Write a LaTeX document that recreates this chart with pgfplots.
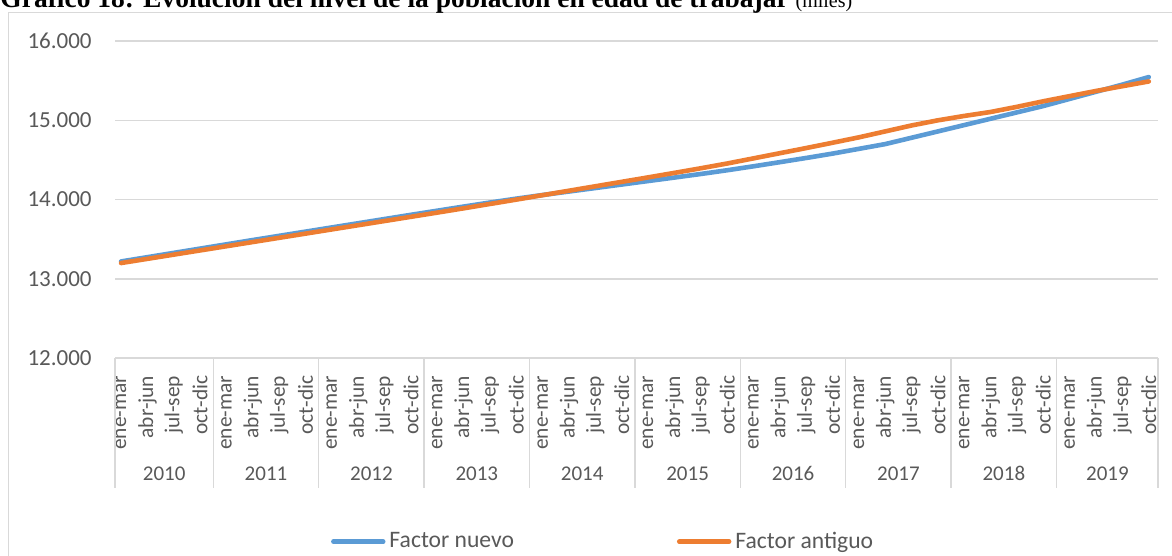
\documentclass[border=0pt]{standalone}
\usepackage{fontspec}
\setmainfont{Carlito}
\newfontfamily\seriffont{Liberation Serif}
\usepackage{pgfplots}
\pgfplotsset{compat=1.18}
\definecolor{cblue}{HTML}{5B9BD5}
\definecolor{corange}{HTML}{ED7D31}
\definecolor{ctext}{HTML}{595959}
\definecolor{cgrid}{HTML}{D9D9D9}
\tikzset{yearlab/.style={text=ctext, font=\fontsize{10.5}{12}\selectfont, anchor=base, yshift=-61.4pt, inner sep=0pt}}

\pgfplotstableread{
i nuevo antiguo
0 13220 13200
1 13274 13253
2 13328 13306
3 13382 13359
4 13436 13412
5 13490 13465
6 13543 13518
7 13596 13571
8 13649 13624
9 13702 13677
10 13755 13730
11 13808 13783
12 13860 13836
13 13912 13890
14 13963 13945
15 14012 14000
16 14058 14056
17 14102 14112
18 14146 14168
19 14190 14224
20 14234 14280
21 14278 14337
22 14323 14395
23 14370 14455
24 14420 14520
25 14472 14585
26 14525 14650
27 14580 14717
28 14640 14785
29 14700 14860
30 14780 14935
31 14860 15000
32 14940 15055
33 15020 15105
34 15100 15170
35 15180 15240
36 15270 15305
37 15360 15370
38 15450 15430
39 15545 15490
}\datatable

\begin{document}
\begin{tikzpicture}
\useasboundingbox (0,0) rectangle (586pt,278pt);
\clip (0,0) rectangle (586pt,278pt);
\fill[white] (0,0) rectangle (586pt,278pt);
\draw[cgrid, line width=0.6pt] (4.15pt,-10pt) -- (4.15pt,271.6pt) -- (600pt,271.6pt);
\node[anchor=base west, inner sep=0pt, font=\seriffont\bfseries\fontsize{13.75}{16}\selectfont] at (0pt,274.35pt) {Gráfico 18: Evolución del nivel de la población en edad de trabajar {\mdseries\fontsize{10}{12}\selectfont (miles)}};

\begin{axis}[
  at={(57.5pt,98.9pt)}, anchor=south west,
  scale only axis, width=521.5pt, height=158.6pt,
  xmin=-0.23, xmax=39.35, ymin=12000, ymax=16000,
  scaled y ticks=false,
  ytick={12000,13000,14000,15000,16000},
  yticklabels={12.000,13.000,14.000,15.000,16.000},
  xtick={0,...,39},
  xticklabels={ene-mar,abr-jun,jul-sep,oct-dic,ene-mar,abr-jun,jul-sep,oct-dic,ene-mar,abr-jun,jul-sep,oct-dic,ene-mar,abr-jun,jul-sep,oct-dic,ene-mar,abr-jun,jul-sep,oct-dic,ene-mar,abr-jun,jul-sep,oct-dic,ene-mar,abr-jun,jul-sep,oct-dic,ene-mar,abr-jun,jul-sep,oct-dic,ene-mar,abr-jun,jul-sep,oct-dic,ene-mar,abr-jun,jul-sep,oct-dic},
  axis line style={draw=none},
  major tick length=0pt,
  ymajorgrids, major grid style={cgrid, line width=0.75pt},
  xticklabel style={rotate=90, anchor=east, inner sep=0pt, font=\fontsize{10.7}{12}\selectfont, text=ctext},
  xticklabel shift=8.6pt,
  yticklabel style={anchor=east, inner sep=0pt, font=\fontsize{11.5}{13}\selectfont, text=ctext},
  yticklabel shift=11.5pt,
  clip=false,
  legend columns=2,
  legend cell align=left,
  legend image code/.code={\draw[#1, line width=2.3pt, line cap=round] (1.1pt,0pt) -- (26pt,0pt);},
  legend style={at={(0.2068,-0.5785)}, anchor=west, draw=none, fill=none, inner sep=0pt,
    font=\fontsize{11.8}{14}\selectfont, text=ctext,
    /tikz/every odd column/.append style={column sep=0pt},
    /tikz/every even column/.append style={column sep=79.5pt}},
]
\pgfplotsinvokeforeach{-0.23,3.5,7.5,11.5,15.5,19.5,23.5,27.5,31.5,35.5,39.35}{
  \draw[cgrid, line width=0.75pt] (axis cs:#1,12000) -- ++(0pt,-65pt);
}
\node[yearlab] at (axis cs:1.635,12000) {2010};
\node[yearlab] at (axis cs:5.5,12000) {2011};
\node[yearlab] at (axis cs:9.5,12000) {2012};
\node[yearlab] at (axis cs:13.5,12000) {2013};
\node[yearlab] at (axis cs:17.5,12000) {2014};
\node[yearlab] at (axis cs:21.5,12000) {2015};
\node[yearlab] at (axis cs:25.5,12000) {2016};
\node[yearlab] at (axis cs:29.5,12000) {2017};
\node[yearlab] at (axis cs:33.5,12000) {2018};
\node[yearlab] at (axis cs:37.43,12000) {2019};
\addplot[cblue, line width=2.3pt, line join=round, line cap=round] table[x=i, y=nuevo] {\datatable};
\addlegendentry{Factor nuevo}
\addplot[corange, line width=2.3pt, line join=round, line cap=round] table[x=i, y=antiguo] {\datatable};
\addlegendentry{Factor antiguo}
\end{axis}
\end{tikzpicture}
\end{document}
